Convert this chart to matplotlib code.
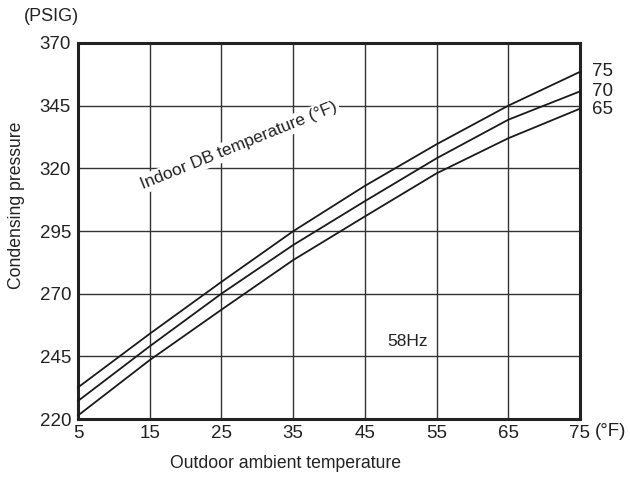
import matplotlib
matplotlib.use("Agg")
import matplotlib.pyplot as plt

plt.rcParams['font.family'] = ['Liberation Sans', 'DejaVu Sans']

outdoor_temp = [5, 15, 25, 35, 45, 55, 65, 75]
indoor_labels = ["75", "70", "65"]
pressure_75 = [232.6, 254.0, 274.7, 294.9, 313.0, 329.6, 345.0, 358.5]
pressure_70 = [227.2, 249.0, 270.0, 289.4, 306.9, 324.0, 339.4, 350.7]
pressure_65 = [221.4, 243.5, 263.6, 283.4, 300.8, 318.0, 332.0, 343.8]
x_ticks = [5, 15, 25, 35, 45, 55, 65, 75]
y_ticks = [220, 245, 270, 295, 320, 345, 370]

TXT = '#222222'
fig = plt.figure(figsize=(6.3, 4.78), dpi=100)
ax = fig.add_axes([78/630, 1-419/478, (580-78)/630, (419-43)/478])
ax.set_xlim(5, 75)
ax.set_ylim(220, 370)
ax.set_xticks(x_ticks)
ax.set_yticks(y_ticks)
ax.set_xticklabels([str(v) for v in x_ticks], fontsize=13.5)
ax.set_yticklabels([str(v) for v in y_ticks], fontsize=13.5)
ax.tick_params(axis='x', length=0, pad=4, colors=TXT)
ax.tick_params(axis='y', length=0, pad=5, colors=TXT)
ax.grid(True, color='#333333', linewidth=1.0)
ax.set_axisbelow(True)
for s in ax.spines.values():
    s.set_linewidth(2.2)
    s.set_color('#222222')

series = [pressure_75, pressure_70, pressure_65]
for lab, ys in zip(indoor_labels, series):
    ax.plot(outdoor_temp, ys, color='#1a1a1a', linewidth=1.3, clip_on=False, zorder=3)

label_y = [72, 91.5, 110]
for lab, py in zip(indoor_labels, label_y):
    fig.text(592/630, 1-py/478, lab, fontsize=13.5, ha='left', va='center', color=TXT)

ax.text(27.45, 329.0, "Indoor DB temperature (°F)", rotation=22, fontsize=12.5,
        ha='center', va='center', color=TXT, rotation_mode='anchor',
        bbox=dict(facecolor='white', edgecolor='none', pad=1.5), zorder=2.5)
ax.text(51.0, 251.0, "58Hz", fontsize=12.5, ha='center', va='center', color=TXT)

fig.text(51.7/630, 1-16.7/478, "(PSIG)", fontsize=13, ha='center', va='center', color=TXT)
fig.text(611/630, 1-431/478, "(°F)", fontsize=13.5, ha='center', va='center', color=TXT)
fig.text(16.7/630, 1-205/478, "Condensing pressure", rotation=90, fontsize=12.7,
         ha='center', va='center', color=TXT)
fig.text(285.5/630, 1-463/478, "Outdoor ambient temperature", fontsize=12.7,
         ha='center', va='center', color=TXT)

fig.savefig("out.png", dpi=100)
